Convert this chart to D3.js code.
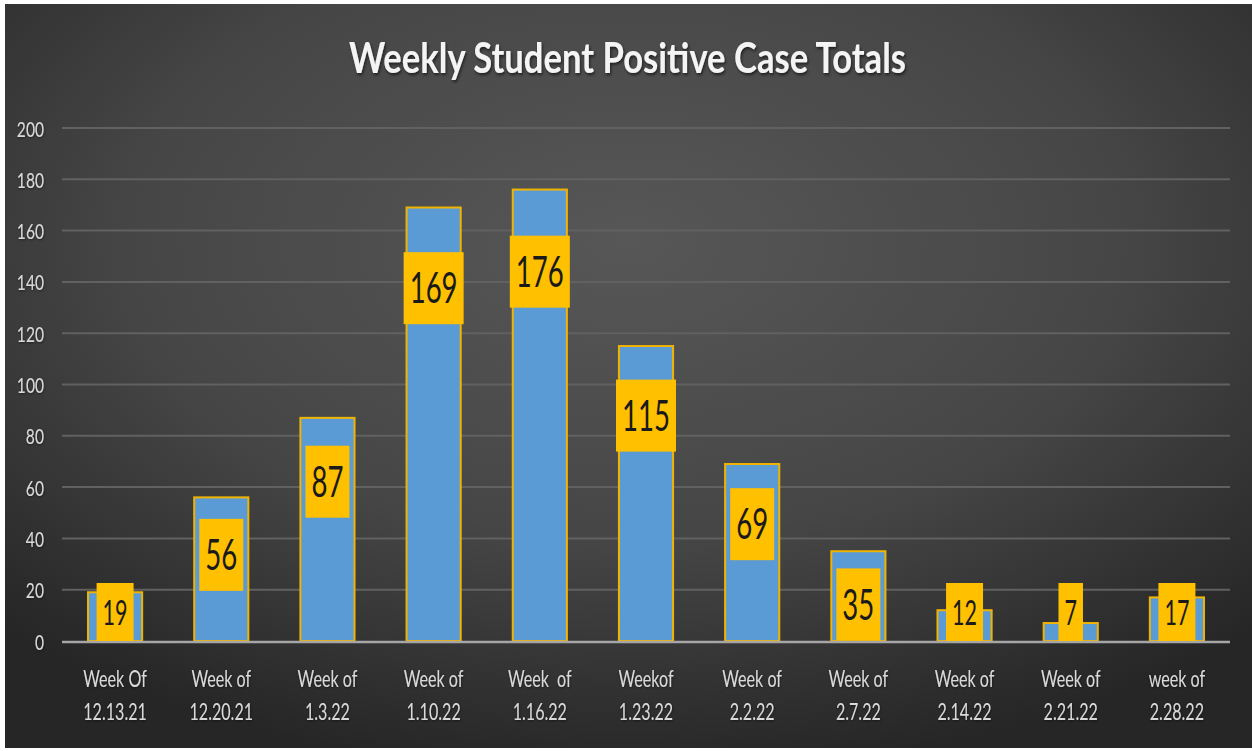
<!DOCTYPE html>
<html><head><meta charset="utf-8">
<script src="https://cdn.jsdelivr.net/npm/d3@7"></script>
<style>
html,body{margin:0;padding:0;background:#fff;}
svg{display:block;}
text{font-family:Lato,"Open Sans",sans-serif;white-space:pre;}
</style></head>
<body>
<svg id="chart" width="1252" height="751"></svg>
<script>
const title = "Weekly Student Positive Case Totals";
const weekLine1 = ["Week Of","Week of","Week of","Week of","Week  of","Weekof","Week of","Week of","Week of","Week of","week of"];
const weekLine2 = ["12.13.21","12.20.21","1.3.22","1.10.22","1.16.22","1.23.22","2.2.22","2.7.22","2.14.22","2.21.22","2.28.22"];
const cases = [19,56,87,169,176,115,69,35,12,7,17];
const yTicks = [0,20,40,60,80,100,120,140,160,180,200];

const W = 1252, H = 751;
const svg = d3.select("#chart");
const defs = svg.append("defs");
const rg = defs.append("radialGradient").attr("id","bg")
  .attr("cx","50%").attr("cy","32%").attr("r","72%").attr("fx","50%").attr("fy","32%");
rg.append("stop").attr("offset","0%").attr("stop-color","#575757");
rg.append("stop").attr("offset","55%").attr("stop-color","#464646");
rg.append("stop").attr("offset","100%").attr("stop-color","#262626");
const sh = defs.append("filter").attr("id","sh").attr("x","-5%").attr("y","-20%").attr("width","110%").attr("height","140%");
sh.append("feDropShadow").attr("dx",1).attr("dy",2).attr("stdDeviation",1.5).attr("flood-color","#000").attr("flood-opacity",0.6);
const sh2 = defs.append("filter").attr("id","sh2").attr("x","-10%").attr("y","-20%").attr("width","120%").attr("height","140%");
sh2.append("feDropShadow").attr("dx",0.5).attr("dy",1).attr("stdDeviation",1).attr("flood-color","#000").attr("flood-opacity",0.5);

svg.append("rect").attr("x",5).attr("y",4).attr("width",W-5).attr("height",H-7).attr("fill","url(#bg)");

const x = d3.scaleBand().domain(weekLine2).range([62,1230]).paddingInner(0.49).paddingOuter(0.245);
const y = d3.scaleLinear().domain([0,200]).range([641,128]);

// gridlines
svg.append("g").selectAll("line").data(yTicks.filter(t=>t>0)).join("line")
  .attr("x1",62).attr("x2",1230).attr("y1",d=>y(d)).attr("y2",d=>y(d))
  .attr("stroke","#616161").attr("stroke-width",2);

// y axis labels
const yAxis = svg.append("g").attr("transform","translate(44,0)")
  .call(d3.axisLeft(y).tickValues(yTicks).tickSize(0).tickPadding(0));
yAxis.select(".domain").remove();
yAxis.selectAll("text").attr("fill","#d9d9d9").attr("font-size",22).attr("font-family","Lato")
  .attr("dy",null).attr("y",8).attr("filter","url(#sh2)").classed("sq71",true);

// bars
svg.append("g").selectAll("rect").data(cases).join("rect")
  .attr("x",(d,i)=>x(weekLine2[i])).attr("width",x.bandwidth())
  .attr("y",d=>y(d)).attr("height",d=>y(0)-y(d))
  .attr("fill","#5b9bd5").attr("stroke","#f0b400").attr("stroke-width",2);

// baseline
svg.append("line").attr("x1",62).attr("x2",1230).attr("y1",y(0)+1).attr("y2",y(0)+1)
  .attr("stroke","#a6a6a6").attr("stroke-width",2.5);

// data labels
const lg = svg.append("g");
cases.forEach((v,i)=>{
  const small = v < 20;
  const fs = small ? 35 : 42;
  const digitW = small ? 12.5 : 16;
  const bh = small ? 58 : 72;
  const s = String(v);
  const tw = s.length*digitW;
  const bw = tw + 12;
  const cx = x(weekLine2[i]) + x.bandwidth()/2;
  const barH = y(0)-y(v);
  let top = y(v) + 10 + 0.08*barH;
  if (top + bh > y(0)) top = y(0) - bh;
  lg.append("rect").attr("x",cx-bw/2).attr("y",top).attr("width",bw).attr("height",bh).attr("fill","#ffc000");
  lg.append("text").attr("x",cx).attr("y",top+bh/2+fs*0.36).attr("text-anchor","middle")
    .attr("font-size",fs).attr("fill","#1a1a1a").attr("textLength",tw).attr("lengthAdjust","spacingAndGlyphs").text(s);
});

// x labels
const xg = svg.append("g");
weekLine2.forEach((w,i)=>{
  const cx = x(w)+x.bandwidth()/2;
  xg.append("text").attr("x",cx).attr("y",687).attr("text-anchor","middle").attr("font-size",23)
    .attr("fill","#d9d9d9").attr("filter","url(#sh2)").classed("sq70",true).text(weekLine1[i]);
  xg.append("text").attr("x",cx).attr("y",720).attr("text-anchor","middle").attr("font-size",23)
    .attr("fill","#d9d9d9").attr("filter","url(#sh2)").classed("sq70",true).text(w);
});

// title
svg.append("text").attr("x",627.5).attr("y",73).attr("text-anchor","middle")
  .attr("font-size",42).attr("font-weight","bold").attr("fill","#f4f4f4")
  .attr("filter","url(#sh)").attr("textLength",557).attr("lengthAdjust","spacingAndGlyphs").text(title);

// horizontal squeeze of text to match condensed look
svg.selectAll("text.sq71").each(function(){ const l=this.getComputedTextLength(); d3.select(this).attr("textLength",l*0.71).attr("lengthAdjust","spacingAndGlyphs"); });
svg.selectAll("text.sq70").each(function(){ const l=this.getComputedTextLength(); d3.select(this).attr("textLength",l*0.7).attr("lengthAdjust","spacingAndGlyphs"); });
</script>
</body></html>
